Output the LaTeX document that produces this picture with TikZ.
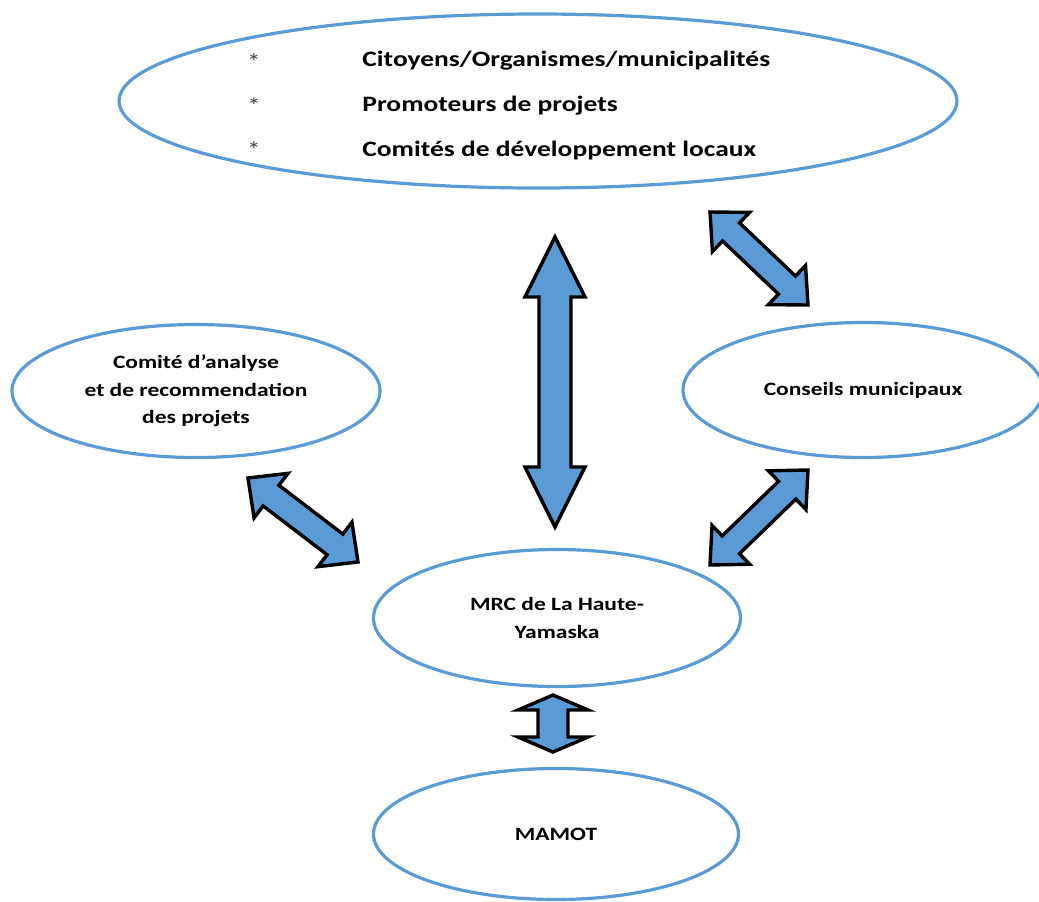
\documentclass[tikz,border=0pt]{standalone}
\usepackage{fontspec}
\usepackage{tikz}
\usetikzlibrary{shapes.geometric,calc}
\newfontfamily\diagfont{Carlito}[FakeStretch=1.25]
\definecolor{bulleblue}{HTML}{5B9BD5}
\definecolor{flecheblue}{HTML}{5B9BD5}

\tikzset{
  bulle/.style={ellipse, draw=bulleblue, line width=1.6pt, inner sep=0pt, align=center,
    font=\diagfont\bfseries\fontsize{9.4}{13.8}\selectfont},
  ligne/.style={anchor=base west, inner sep=0pt, font=\diagfont\bfseries\fontsize{11}{11}\selectfont},
  puce/.style={inner sep=0pt, text=black!75, font=\diagfont\fontsize{11}{11}\selectfont},
  fleche/.style={draw=black, fill=flecheblue, line width=1.7pt, line join=miter}
}

% double block arrow between tips #1 and #2 (head length #3, half head #4, half shaft #5)
\newcommand{\doublefleche}[5]{%
  \coordinate (h1) at ($(#1)!#3!(#2)$);
  \coordinate (h2) at ($(#2)!#3!(#1)$);
  \draw[fleche] (#1) -- ($(h1)!#4!90:(#2)$) -- ($(h1)!#5!90:(#2)$)
    -- ($(h2)!#5!-90:(#1)$) -- ($(h2)!#4!-90:(#1)$) -- (#2)
    -- ($(h2)!#4!90:(#1)$) -- ($(h2)!#5!90:(#1)$)
    -- ($(h1)!#5!-90:(#2)$) -- ($(h1)!#4!-90:(#2)$) -- cycle;
}

\begin{document}
\begin{tikzpicture}[x=0.5pt,y=-0.5pt]
  \useasboundingbox (0,0) rectangle (1039,901);

  % Define the bubbles
  \node[bulle, minimum width=419pt, minimum height=87pt] (acteurs) at (538,101) {};
  \node[bulle, minimum width=184pt, minimum height=66.5pt] (comite) at (196,391)
    {Comité d’analyse\\et de recommendation\\des projets};
  \node[bulle, minimum width=180pt, minimum height=67.5pt] (conseils) at (863,390)
    {Conseils municipaux};
  \node[bulle, minimum width=183.5pt, minimum height=68.5pt] (mrc) at (557,618)
    {MRC de La Haute-\\Yamaska};
  \node[bulle, minimum width=182.5pt, minimum height=65.5pt] (mamot) at (556,834)
    {MAMOT};

  % Texts of the top bubble
  \node[puce] (puce1) at (254,62) {*};
  \node[puce] (puce2) at (254,106) {*};
  \node[puce] (puce3) at (254,150) {*};
  \node[ligne] (ligne1) at (362,66) {Citoyens/Organismes/municipalités};
  \node[ligne] (ligne2) at (362,111) {Promoteurs de projets};
  \node[ligne] (ligne3) at (362,156) {Comités de développement locaux};

  % Ends of the arrows
  \coordinate (v1) at (555,237);
  \coordinate (v2) at (555,527);
  \coordinate (ne1) at (710,212);
  \coordinate (ne2) at (808,305);
  \coordinate (nw1) at (248,478);
  \coordinate (nw2) at (358,562);
  \coordinate (se1) at (808,470);
  \coordinate (se2) at (710,565);
  \coordinate (m1) at (553,695);
  \coordinate (m2) at (553,752);

  % Draw the arrows
  \doublefleche{v1}{v2}{30pt}{15pt}{8pt}
  \doublefleche{ne1}{ne2}{14.5pt}{13.5pt}{6.2pt}
  \doublefleche{nw1}{nw2}{14.5pt}{14pt}{6.5pt}
  \doublefleche{se1}{se2}{14.5pt}{13.5pt}{6.2pt}
  \doublefleche{m1}{m2}{7.5pt}{17.5pt}{7.5pt}
\end{tikzpicture}
\end{document}
